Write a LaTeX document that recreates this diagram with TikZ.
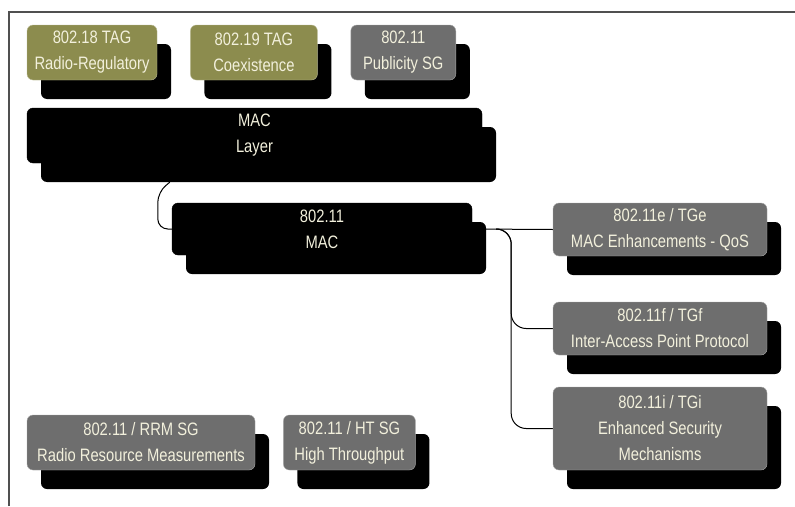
\documentclass[tikz,border=0pt]{standalone}
\usepackage{fontspec}
\setmainfont{Liberation Sans}[FakeStretch=0.82]
\usepackage{xcolor}
\usepackage{tikz}
\usetikzlibrary{positioning,shadows,calc,backgrounds}

\definecolor{tagolive}{HTML}{8C8C4E}
\definecolor{sggrey}{HTML}{6E6E6E}
\definecolor{labelcream}{HTML}{F2F0DC}
\definecolor{framegrey}{HTML}{505050}

\begin{document}
\begin{tikzpicture}[x=1pt,y=-1pt,
  box/.style={rounded corners=6pt,align=center,text=labelcream,inner sep=2pt,
    font=\fontsize{18}{26}\selectfont,
    drop shadow={shadow xshift=14pt,shadow yshift=-19pt,opacity=1,fill=black}},
  tagbox/.style={box,fill=tagolive,draw=tagolive!60!white},
  sgbox/.style={box,fill=sggrey,draw=sggrey!60!white},
  macbox/.style={box,fill=black,draw=black},
  link/.style={draw=black,line width=1pt},
  node distance=33pt
]
  \useasboundingbox (0,0) rectangle (795,506);
  \draw[framegrey,line width=2pt] (9,506) -- (9,12) -- (795,12);

  % top row
  \node[tagbox,minimum width=130pt,minimum height=55pt] (radreg) at (92,52.5) {802.18 TAG\\Radio-Regulatory};
  \node[tagbox,minimum width=127pt,minimum height=55pt,right=of radreg] (coex) {802.19 TAG\\Coexistence};
  \node[sgbox,minimum width=105pt,minimum height=55pt,right=of coex] (publ) {802.11\\Publicity SG};

  \node[macbox,minimum width=455pt,minimum height=55pt] (maclayer) at (254.5,135.5) {MAC\\Layer};
  \node[macbox,minimum width=300pt,minimum height=52pt] (mac) at (322,229) {802.11\\MAC};

  % task groups
  \node[sgbox,minimum width=214pt,minimum height=53pt] (tge) at (660,229.5) {802.11e / TGe\\MAC Enhancements - QoS};
  \node[sgbox,minimum width=214pt,minimum height=53pt] (tgf) at (660,328.5) {802.11f / TGf\\Inter-Access Point Protocol};
  \node[sgbox,minimum width=214pt,minimum height=83pt] (tgi) at (660,428.5) {802.11i / TGi\\Enhanced Security\\Mechanisms};

  % study groups
  \node[sgbox,minimum width=228pt,minimum height=55pt] (rrm) at (141,442.5) {802.11 / RRM SG\\Radio Resource Measurements};
  \node[sgbox,minimum width=132pt,minimum height=55pt,right=28pt of rrm] (htsg) {802.11 / HT SG\\High Throughput};

  \begin{scope}[on background layer]
    \coordinate (drop) at ($(maclayer.south west)+(143,19)$);
    \coordinate (trunk) at ($(mac.east)+(39,0)$);
    \draw[link,rounded corners=10pt] (drop) -- ++(-12,10) |- (mac.west);
    \draw[link] (mac.east) -- (tge.west);
    \draw[link,rounded corners=15pt] ($(mac.east)+(25,0)$) -- (trunk) |- (tgf.west);
    \draw[link,rounded corners=15pt] ($(mac.east)+(25,0)$) -- (trunk) |- (tgi.west);
  \end{scope}
\end{tikzpicture}
\end{document}
